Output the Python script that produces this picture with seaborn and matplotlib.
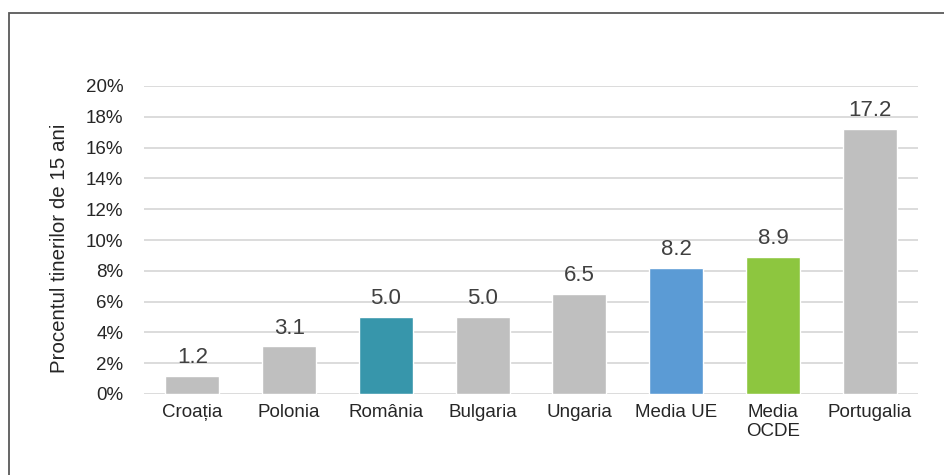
import matplotlib
matplotlib.use("Agg")
import matplotlib.pyplot as plt
import seaborn as sns
import pandas as pd
from matplotlib.patches import Rectangle

categories = ["Croația", "Polonia", "România", "Bulgaria", "Ungaria", "Media UE", "Media\nOCDE", "Portugalia"]
values = [1.2, 3.1, 5.0, 5.0, 6.5, 8.2, 8.9, 17.2]
colors = ["#bfbfbf", "#bfbfbf", "#3796ab", "#bfbfbf", "#bfbfbf", "#5b9bd5", "#8dc63f", "#bfbfbf"]
yticks = [0, 2, 4, 6, 8, 10, 12, 14, 16, 18, 20]
ylabel = "Procentul tinerilor de 15 ani"

sns.set_theme(style="white")
plt.rcParams['font.family'] = ['Liberation Sans', 'DejaVu Sans']

df = pd.DataFrame({"cat": categories, "val": values})

fig = plt.figure(figsize=(9.44, 4.75), dpi=100)
ax = fig.add_axes([144/944, 1 - 394/475, (918-144)/944, (394-86)/475])

sns.barplot(data=df, x="cat", y="val", hue="cat", palette=colors, legend=False,
            width=0.56, ax=ax, saturation=1, zorder=3)

ax.set_ylim(0, 20)
ax.set_yticks(yticks)
ax.set_yticklabels([f"{t}%" for t in yticks], fontsize=13.5, color="#262626")
ax.set_xlim(-0.5, len(categories) - 0.5)
ax.tick_params(axis='x', labelsize=13.5, colors="#262626", length=0, pad=7)
ax.tick_params(axis='y', length=0, pad=15)
ax.set_xlabel("")
ax.set_ylabel(ylabel, fontsize=14.8, color="#262626")
ax.yaxis.set_label_coords(-0.097, 0.474)
ax.grid(axis='y', color="#d9d9d9", linewidth=1.3, zorder=0)
for s in ax.spines.values():
    s.set_visible(False)

for i, v in enumerate(values):
    ax.text(i, v + 0.5, f"{v:.1f}", ha="center", va="bottom", fontsize=16, color="#404040")

fig.patches.append(Rectangle((9/944, -0.1), 1.0, 1 - 13/475 + 0.1, transform=fig.transFigure,
                             fill=False, edgecolor="#595959", linewidth=1.3, zorder=0))

fig.savefig("out.png", dpi=100)
